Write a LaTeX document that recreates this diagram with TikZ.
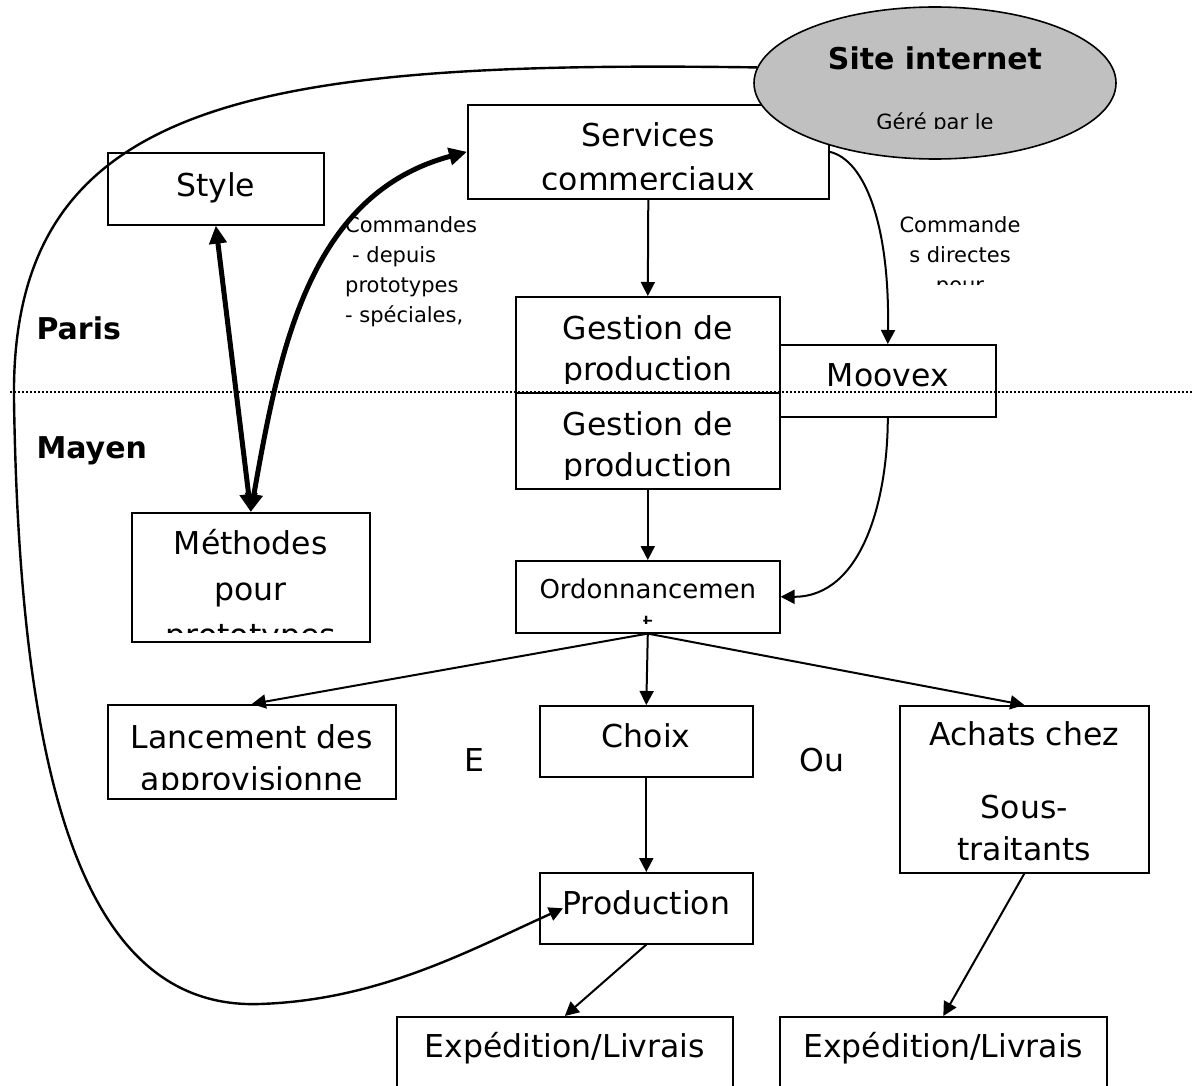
\documentclass[tikz,border=0pt]{standalone}
\usepackage{fontspec}
\setmainfont{DejaVu Sans}
\usetikzlibrary{shapes.geometric,arrows.meta}
\definecolor{gris}{RGB}{192,192,192}
\newcommand\grand{\fontsize{31.5}{42}\selectfont}
\newcommand\petit{\fontsize{21}{30}\selectfont}
\newcommand\gras{\fontsize{30}{36}\selectfont\bfseries}
\tikzset{
  boite/.style={draw,line width=1.6pt,inner sep=0pt,anchor=north west},
  contenu/.style n args={3}{path picture={
    \clip ([yshift=9pt]path picture bounding box.south west) rectangle (path picture bounding box.north east);
    \node[anchor=base,align=center,inner sep=0pt,font=#1] at ([yshift=-#2]path picture bounding box.north) {#3};}},
  fleche/.style={->,line width=2pt},
  grosse/.style={<->,line width=5pt,>={Triangle[length=18pt,width=17pt]}},
}

\begin{document}
\begin{tikzpicture}[x=1pt,y=1pt,>={Triangle[length=14pt,width=14pt]}]
            \useasboundingbox (0,0) rectangle (1192,-1086);
            \clip (0,0) rectangle (1192,-1086);
            \draw[line width=1.6pt,dash pattern=on 1.6pt off 2.4pt] (10,-392)--(1192,-392);
            \node[font=\gras,anchor=base west] (paris) at (33,-339) {Paris};
            \node[font=\gras,anchor=base west] (mayen) at (33,-458) {Mayen};
            \node[boite,minimum width=216pt,minimum height=72pt,contenu={\grand}{44pt}{Style}] (style) at (107,-152) {};
            \node[boite,minimum width=361pt,minimum height=94pt,contenu={\fontsize{31.5}{44}\selectfont}{86pt}{Services\\commerciaux}] (services) at (467,-104) {};
            \node[boite,minimum width=264pt,minimum height=96pt,contenu={\fontsize{31.5}{41}\selectfont}{84pt}{Gestion de\\production}] (gestparis) at (515,-296) {};
            \node[boite,minimum width=264pt,minimum height=96pt,contenu={\fontsize{31.5}{41}\selectfont}{84pt}{Gestion de\\production}] (gestmayen) at (515,-392) {};
            \node[boite,minimum width=216pt,minimum height=72pt,contenu={\grand}{42pt}{Moovex}] (moovex) at (779,-344) {};
            \node[boite,minimum width=238pt,minimum height=129pt,contenu={\fontsize{31.5}{46}\selectfont}{134pt}{Méthodes\\pour\\prototypes}] (methodes) at (131,-512) {};
            \node[boite,minimum width=264pt,minimum height=72pt,contenu={\fontsize{26}{36}\selectfont}{74pt}{Ordonnancemen\\t}] (ordo) at (515,-560) {};
            \node[boite,minimum width=288pt,minimum height=94pt,contenu={\grand}{86pt}{Lancement des\\approvisionne}] (lancement) at (107,-704) {};
            \node[boite,minimum width=213pt,minimum height=71pt,contenu={\grand}{42pt}{Choix}] (choix) at (539,-705) {};
            \node[boite,minimum width=249pt,minimum height=167pt,contenu={\grand}{155pt}{Achats chez\\[31pt]Sous-\\traitants}] (achats) at (899,-705) {};
            \node[boite,minimum width=213pt,minimum height=71pt,contenu={\grand}{42pt}{Production}] (production) at (539,-872) {};
            \node[boite,minimum width=336pt,minimum height=100pt,contenu={\grand}{41pt}{Expédition/Livrais}] (expa) at (396,-1016) {};
            \node[boite,minimum width=327pt,minimum height=100pt,contenu={\grand}{41pt}{Expédition/Livrais}] (expb) at (779,-1016) {};
            \node[font=\grand] (et) at (474,-760) {E};
            \node[font=\grand] (ou) at (822,-760) {Ou};
            \node[font=\petit,anchor=base west,align=left,inner sep=0pt] (commandes) at (345,-322) {Commandes\\\hspace*{7pt}- depuis\\prototypes\\- spéciales,};
            \begin{scope}
                \clip (880,-200) rectangle (1040,-285);
                \node[font=\petit,anchor=base,align=center,inner sep=0pt] (directes) at (960,-292) {Commande\\s directes\\pour};
            \end{scope}
            \node[ellipse,draw,line width=1.6pt,fill=gris,minimum width=362pt,minimum height=152pt,inner sep=0pt,path picture={
                \clip (path picture bounding box.north west) rectangle ([yshift=30pt]path picture bounding box.south east);
                \node[font=\gras,anchor=base] at ([yshift=13pt]path picture bounding box.center) {Site internet};
                \node[font=\petit,anchor=base] at ([yshift=-47pt]path picture bounding box.center) {Géré par le};}] (site) at (935,-83) {};
            \draw[fleche,line width=2.4pt] (site.175) .. controls (250,-60) and (10,-100) .. (14,-400) .. controls (20,-800) and (90,-1010) .. (260,-1004) .. controls (380,-1000) and (470,-950) .. ([xshift=24pt]production.west);
            \draw[fleche] (services.south)--(gestparis.north);
            \draw[fleche] (gestmayen.south)--(ordo.north);
            \draw[fleche] (ordo.south)--(choix.north);
            \draw[fleche] (ordo.south)--(lancement.north);
            \draw[fleche] (ordo.south)--(achats.north);
            \draw[fleche] (choix.south)--(production.north);
            \draw[fleche] (production.south)--(expa.north);
            \draw[fleche] (achats.south)--(expb.north);
            \draw[fleche] (services.east) .. controls +(35,-8) and +(2,120) .. (moovex.north);
            \draw[fleche] (moovex.south) to[out=-90,in=0] (ordo.east);
            \draw[grosse] (style.south)--(methodes.north);
            \draw[grosse] (methodes.north) to[out=80,in=195] (services.west);
        \end{tikzpicture}
\end{document}
